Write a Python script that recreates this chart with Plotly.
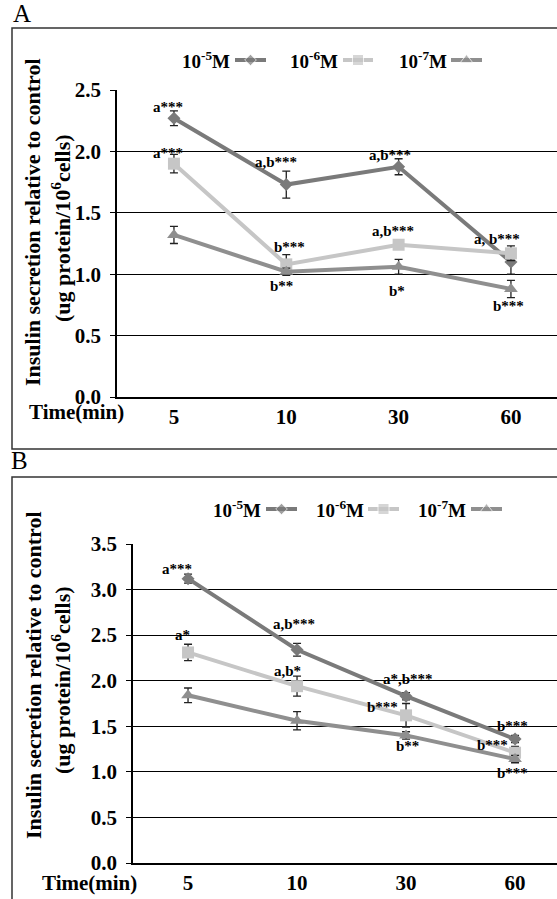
import plotly.graph_objects as go

W, H = 557, 899
FONT = "Liberation Serif"

# ---------------- data ----------------
categories = ["5", "10", "30", "60"]
series_names = ["10<sup>-5</sup>M", "10<sup>-6</sup>M", "10<sup>-7</sup>M"]

A_1e5 = [2.27, 1.73, 1.875, 1.10]
A_1e6 = [1.90, 1.08, 1.24, 1.17]
A_1e7 = [1.32, 1.02, 1.06, 0.88]
A_err_1e5 = [0.06, 0.11, 0.065, 0.10]
A_err_1e6 = [0.075, 0.08, 0.03, 0.06]
A_err_1e7 = [0.07, 0.03, 0.06, 0.07]

B_1e5 = [3.12, 2.34, 1.83, 1.36]
B_1e6 = [2.31, 1.94, 1.62, 1.21]
B_1e7 = [1.84, 1.56, 1.40, 1.14]
B_err_1e5 = [0.05, 0.07, 0.04, 0.04]
B_err_1e6 = [0.09, 0.11, 0.13, 0.07]
B_err_1e7 = [0.08, 0.10, 0.04, 0.04]

A_labels = ["a***", "a***", "a,b***", "a,b***", "b***", "b**", "a,b***", "b*", "a, b***", "b***"]
A_label_x = [-0.056, -0.056, 0.91, 1.92, 1.03, 0.96, 1.95, 1.99, 2.88, 2.98]
A_label_y = [2.36, 1.99, 1.91, 1.97, 1.22, 0.90, 1.35, 0.86, 1.29, 0.74]

B_labels = ["a***", "a,b***", "a*", "a,b*", "a*,b***", "b***", "b**", "b***", "b***", "b***"]
B_label_x = [-0.10, 0.97, -0.05, 0.91, 2.02, 1.78, 2.01, 2.98, 2.79, 2.98]
B_label_y = [3.23, 2.62, 2.50, 2.11, 2.02, 1.71, 1.28, 1.50, 1.29, 0.99]

# ---------------- styles ----------------
colors = ["#7a7a7a", "#c6c6c6", "#8f8f8f"]
symbols = ["diamond", "square", "triangle-up"]
msizes = [10, 12, 12]


def px(x):
    return x / W


def py(y):
    return 1 - y / H


fig = go.Figure()
x_idx = list(range(len(categories)))

panels = [
    dict(vals=[A_1e5, A_1e6, A_1e7], errs=[A_err_1e5, A_err_1e6, A_err_1e7], xa="x", ya="y"),
    dict(vals=[B_1e5, B_1e6, B_1e7], errs=[B_err_1e5, B_err_1e6, B_err_1e7], xa="x2", ya="y2"),
]

for p in panels:
    for i in range(3):
        fig.add_trace(go.Scatter(
            x=x_idx, y=p["vals"][i], mode="lines+markers",
            line=dict(color=colors[i], width=4),
            marker=dict(symbol=symbols[i], size=msizes[i], color=colors[i]),
            error_y=dict(type="data", array=p["errs"][i], visible=True,
                         color="#222222", thickness=1.3, width=4),
            xaxis=p["xa"], yaxis=p["ya"], showlegend=False, hoverinfo="skip"))

# legend keys drawn on a hidden pixel-space axis
legend_rows = [
    dict(y=60, text_right=[232, 340, 449], line=[(235, 266), (343, 373), (451, 482)]),
    dict(y=509, text_right=[263, 366, 468], line=[(266, 297), (368, 399), (471, 502)]),
]
for row in legend_rows:
    for i in range(3):
        x0, x1 = row["line"][i]
        fig.add_trace(go.Scatter(
            x=[x0, (x0 + x1) / 2, x1], y=[row["y"]] * 3, mode="lines+markers",
            line=dict(color=colors[i], width=4),
            marker=dict(symbol=symbols[i], size=[0, msizes[i] - 1, 0], color=colors[i]),
            xaxis="x3", yaxis="y3", showlegend=False, hoverinfo="skip"))

annotations = []
for row in legend_rows:
    for i in range(3):
        annotations.append(dict(
            x=px(row["text_right"][i]), y=py(row["y"]), xref="paper", yref="paper",
            xanchor="right", yanchor="middle", showarrow=False, text="<b>%s</b>" % series_names[i],
            font=dict(family=FONT, size=19, color="black")))

for t, x, y in zip(A_labels, A_label_x, A_label_y):
    annotations.append(dict(x=x, y=y, xref="x", yref="y", text="<b>%s</b>" % t, showarrow=False,
                            xanchor="center", yanchor="middle",
                            font=dict(family=FONT, size=15, color="black")))
for t, x, y in zip(B_labels, B_label_x, B_label_y):
    annotations.append(dict(x=x, y=y, xref="x2", yref="y2", text="<b>%s</b>" % t, showarrow=False,
                            xanchor="center", yanchor="middle",
                            font=dict(family=FONT, size=15, color="black")))

for (yc1, yc2) in [(222, 228), (675, 680)]:
    annotations.append(dict(x=px(33), y=py(yc1), xref="paper", yref="paper", textangle=-90,
                            text="<b>Insulin secretion relative to control</b>", showarrow=False,
                            xanchor="center", yanchor="middle",
                            font=dict(family=FONT, size=22, color="black")))
    annotations.append(dict(x=px(61), y=py(yc2), xref="paper", yref="paper", textangle=-90,
                            text="<b>(ug protein/10<sup>6</sup>cells)</b>", showarrow=False,
                            xanchor="center", yanchor="middle",
                            font=dict(family=FONT, size=22, color="black")))

annotations.append(dict(x=px(76), y=py(412), xref="paper", yref="paper", text="<b>Time(min)</b>",
                        xanchor="center", yanchor="middle",
                        showarrow=False, font=dict(family=FONT, size=21, color="black")))
annotations.append(dict(x=px(89), y=py(883), xref="paper", yref="paper", text="<b>Time(min)</b>",
                        xanchor="center", yanchor="middle",
                        showarrow=False, font=dict(family=FONT, size=21, color="black")))
annotations.append(dict(x=px(11), y=py(29), xref="paper", yref="paper", text="A", xanchor="left",
                        yanchor="bottom", showarrow=False, font=dict(family=FONT, size=25, color="black")))
annotations.append(dict(x=px(9), y=py(476), xref="paper", yref="paper", text="B", xanchor="left",
                        yanchor="bottom", showarrow=False, font=dict(family=FONT, size=25, color="black")))

shapes = [
    dict(type="rect", xref="paper", yref="paper", x0=px(12), x1=px(W + 5), y0=py(28), y1=py(449),
         line=dict(color="#333333", width=1.5), layer="below"),
    dict(type="rect", xref="paper", yref="paper", x0=px(12), x1=px(W + 5), y0=py(477), y1=py(H + 5),
         line=dict(color="#333333", width=1.5), layer="below"),
]

tickfont = dict(family=FONT, size=21, color="black")


def make_xaxis(dom, rng, anchor):
    return dict(domain=dom, range=rng, tickmode="array", tickvals=x_idx,
                ticktext=["<b>%s</b>" % c for c in categories],
                showgrid=False, zeroline=False, showline=True, linecolor="black", linewidth=1.5,
                ticks="", tickfont=tickfont, anchor=anchor, fixedrange=True)


def make_yaxis(dom, rng, anchor):
    return dict(domain=dom, range=rng, tickmode="linear", dtick=0.5, tick0=0, tickformat=".1f",
                showgrid=True, gridcolor="black", gridwidth=1.2, zeroline=False, showline=True,
                linecolor="black", linewidth=1.5, ticks="outside", ticklen=5, tickcolor="black",
                tickfont=tickfont, tickprefix="<b>", ticksuffix="</b>", ticklabelstandoff=5,
                anchor=anchor, fixedrange=True)


fig.update_layout(
    width=W, height=H, margin=dict(l=0, r=0, t=0, b=0, autoexpand=False),
    paper_bgcolor="white", plot_bgcolor="rgba(0,0,0,0)",
    xaxis=make_xaxis([px(117), 1], [-0.507, 3.41], "y"),
    yaxis=make_yaxis([py(397), py(90)], [0, 2.5], "x"),
    xaxis2=make_xaxis([px(133), 1], [-0.505, 3.385], "y2"),
    yaxis2=make_yaxis([py(863), py(544)], [0, 3.5], "x2"),
    xaxis3=dict(domain=[0, 1], range=[0, W], visible=False, fixedrange=True, anchor="y3"),
    yaxis3=dict(domain=[0, 1], range=[H, 0], visible=False, fixedrange=True, anchor="x3"),
    annotations=annotations, shapes=shapes, showlegend=False,
)

fig.write_html("out.html", config={"displayModeBar": False},
               post_script="document.body.style.margin='0px';")
